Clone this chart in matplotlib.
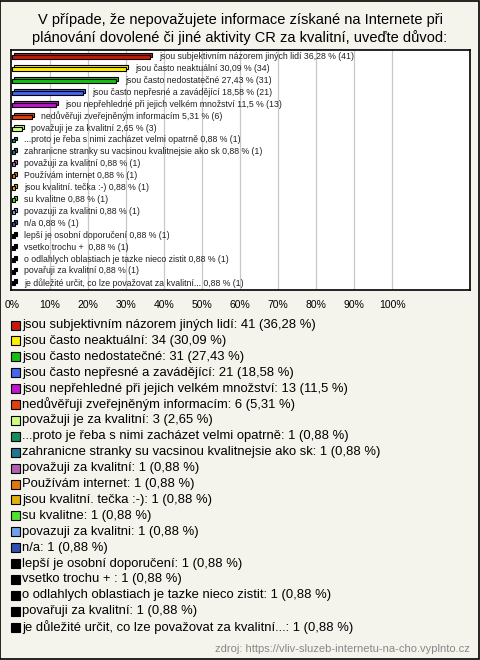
import matplotlib.pyplot as plt
from matplotlib.patches import Rectangle

BG = '#f4f3ec'

title = ("V případe, že nepovažujete informace získané na Internete při\n"
         "plánování dovolené či jiné aktivity CR za kvalitní, uveďte důvod:")

answers = [
    "jsou subjektivním názorem jiných lidí",
    "jsou často neaktuální",
    "jsou často nedostatečné",
    "jsou často nepřesné a zavádějící",
    "jsou nepřehledné při jejich velkém množství",
    "nedůvěřuji zveřejněným informacím",
    "považuji je za kvalitní",
    "...proto je řeba s nimi zacházet velmi opatrně",
    "zahranicne stranky su vacsinou kvalitnejsie ako sk",
    "považuji za kvalitní",
    "Používám internet",
    "jsou kvalitní. tečka :-)",
    "su kvalitne",
    "povazuji za kvalitni",
    "n/a",
    "lepší je osobní doporučení",
    "vsetko trochu + ",
    "o odlahlych oblastiach je tazke nieco zistit",
    "povařuji za kvalitní",
    "je důležité určit, co lze považovat za kvalitní...",
]
counts = [41, 34, 31, 21, 13, 6, 3] + [1] * 13
percents = [36.28, 30.09, 27.43, 18.58, 11.5, 5.31, 2.65] + [0.88] * 13

colors = ['#c41a0c', '#ffee00', '#14c014', '#4466f0', '#c014d0', '#e04010',
          '#ccff80', '#109060', '#207890', '#b060b0', '#e07810', '#e0b010',
          '#50e030', '#70a0e8', '#3050b0', '#000000', '#000000', '#000000',
          '#000000', '#000000']

xticks = list(range(0, 101, 10))
source = "zdroj: https://vliv-sluzeb-internetu-na-cho.vyplnto.cz"

plt.rcParams['font.family'] = ['Liberation Sans', 'DejaVu Sans']

W, H = 480, 660
fig = plt.figure(figsize=(W / 100, H / 100), dpi=100, facecolor=BG)

# outer frame
fig.patches.append(Rectangle((0.001, 0.001), 0.997, 0.997, transform=fig.transFigure,
                             fill=False, edgecolor='black', lw=1.2))

fig.text(0.5, 1 - 29 / H, title, ha='center', va='center', fontsize=10.5,
         linespacing=1.2)

# bar chart area
ax = fig.add_axes([11 / W, 1 - 290 / H, (470 - 11) / W, (290 - 50) / H])
ax.set_facecolor('white')
ax.set_xlim(-0.26, 120.5)
ax.set_ylim(len(answers) - 0.45, -0.6)
for s in ax.spines.values():
    s.set_linewidth(1.2)
ax.set_yticks([])
ax.set_xticks(xticks)
ax.set_xticklabels([f"{t}%" for t in xticks], fontsize=7.5)
ax.tick_params(axis='x', length=0, pad=7)
for t in xticks[1:]:
    ax.axvline(t, color='#c8c8c8', lw=0.9, zorder=0)

bh = 0.33
dx, dy = 0.5, 0.17
for i, (name, p, n, c) in enumerate(zip(answers, percents, counts, colors)):
    # back face for the 3D look
    ax.barh(i - dy, p, left=dx, height=bh, color=c, edgecolor='black', lw=0.8, zorder=2)
    ax.barh(i, p, height=bh, color=c, edgecolor='black', lw=0.8, zorder=3)
    ptxt = f"{p:g}".replace('.', ',')
    ax.text(p + 2.4, i - 0.05, f"{name} {ptxt} % ({n})", fontsize=6.3, va='center',
            ha='left', color='#222222', zorder=4)

# legend below
y0 = 325
step = 15.9
for i, (name, p, n, c) in enumerate(zip(answers, percents, counts, colors)):
    y = 1 - (y0 + i * step) / H
    fig.patches.append(Rectangle((11 / W, y - 4.5 / H), 9 / W, 9 / H,
                                 transform=fig.transFigure, facecolor=c,
                                 edgecolor='black', lw=0.8))
    ptxt = f"{p:g}".replace('.', ',')
    fig.text(22.5 / W, y, f"{name}: {n} ({ptxt} %)", fontsize=9.4, va='center', ha='left')

fig.text(470 / W, 1 - 649 / H, source, fontsize=8, color='#888888', ha='right', va='center')

fig.savefig('out.png', dpi=100, facecolor=BG)
